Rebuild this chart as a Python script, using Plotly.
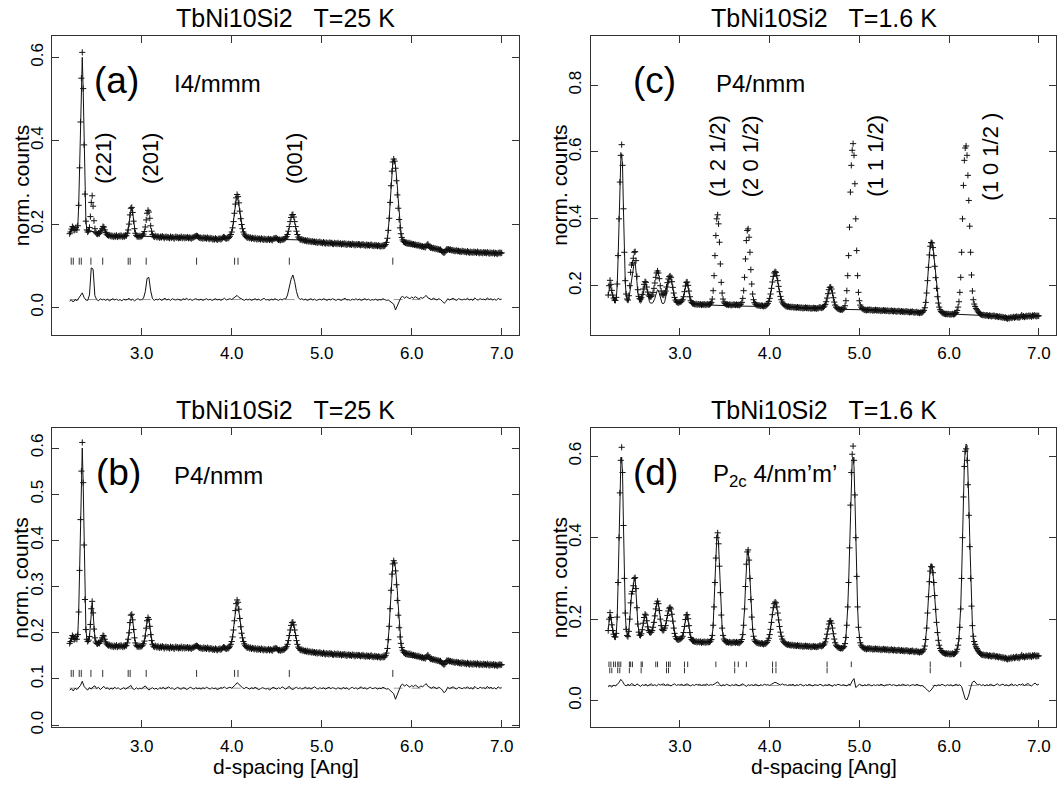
import plotly.graph_objects as go

W, H = 1057, 785
FONT = "Liberation Sans, Arial, Helvetica, sans-serif"

# ---------------- data (intensities in units of 0.001 norm. counts) ----------------
# observed points sampled every 0.01 Ang from 2.20 to 7.00 Ang
d_obs = [round(2.20 + 0.01 * i, 2) for i in range(481)]
# difference curves sampled every 0.02 Ang from 2.20 to 7.00 Ang
d_diff = [round(2.20 + 0.02 * i, 2) for i in range(241)]

obs_25K = [
    177, 181, 188, 194, 191, 185, 187, 192, 186, 196,
    245, 335, 445, 550, 612, 525, 390, 272, 207, 186,
    181, 184, 192, 218, 252, 268, 243, 208, 189, 180,
    177, 176, 178, 177, 181, 184, 189, 194, 193, 186,
    180, 176, 174, 172, 174, 171, 173, 170, 172, 169,
    172, 170, 173, 169, 171, 172, 170, 173, 171, 169,
    172, 170, 173, 172, 178, 186, 200, 222, 238, 240,
    228, 207, 189, 178, 173, 170, 171, 169, 172, 170,
    171, 173, 176, 182, 193, 210, 226, 233, 229, 214,
    196, 183, 175, 171, 169, 172, 170, 168, 171, 169,
    167, 170, 168, 171, 169, 166, 169, 170, 167, 169,
    168, 166, 170, 167, 169, 168, 165, 168, 170, 167,
    169, 166, 168, 167, 170, 166, 168, 169, 166, 168,
    167, 169, 166, 168, 167, 165, 168, 167, 169, 170,
    171, 172, 171, 169, 167, 168, 166, 167, 165, 168,
    166, 167, 165, 168, 166, 164, 167, 165, 166, 163,
    165, 163, 166, 164, 162, 165, 164, 166, 163, 165,
    167, 169, 168, 166, 165, 167, 166, 168, 171, 175,
    181, 191, 206, 226, 248, 263, 271, 266, 251, 231,
    213, 199, 189, 181, 176, 172, 170, 168, 167, 169,
    166, 168, 165, 167, 166, 164, 167, 165, 163, 166,
    164, 165, 163, 166, 164, 162, 165, 163, 164, 162,
    163, 165, 162, 164, 163, 161, 164, 166, 165, 167,
    166, 164, 162, 163, 161, 163, 162, 164, 163, 165,
    167, 170, 175, 183, 194, 206, 216, 222, 223, 217,
    206, 194, 183, 175, 169, 166, 163, 162, 164, 161,
    162, 160, 161, 159, 161, 158, 160, 158, 159, 157,
    159, 157, 158, 156, 158, 155, 157, 156, 158, 155,
    156, 154, 157, 155, 153, 156, 154, 155, 153, 156,
    154, 155, 153, 152, 155, 153, 154, 152, 155, 153,
    152, 154, 151, 153, 152, 154, 151, 153, 150, 152,
    153, 151, 152, 150, 153, 151, 152, 149, 151, 152,
    150, 152, 151, 149, 151, 150, 152, 149, 150, 148,
    151, 149, 150, 148, 150, 151, 148, 149, 147, 150,
    148, 149, 147, 149, 148, 146, 148, 147, 149, 147,
    148, 151, 156, 166, 185, 214, 252, 292, 327, 349,
    356, 351, 334, 304, 270, 238, 211, 191, 177, 168,
    162, 158, 157, 155, 156, 154, 155, 153, 155, 152,
    153, 151, 152, 150, 151, 149, 150, 148, 150, 147,
    148, 146, 147, 145, 146, 144, 147, 150, 152, 148,
    145, 143, 144, 142, 143, 141, 142, 140, 141, 139,
    140, 138, 139, 136, 134, 132, 131, 133, 137, 140,
    139, 140, 138, 139, 137, 138, 136, 137, 135, 136,
    137, 135, 136, 134, 135, 133, 136, 134, 135, 133,
    134, 132, 135, 133, 131, 134, 132, 133, 131, 134,
    132, 133, 131, 134, 132, 130, 133, 131, 132, 130,
    133, 131, 132, 130, 133, 131, 129, 132, 130, 131,
    130, 132, 129, 131, 130, 128, 131, 130, 132, 130,
    131,
]

obs_1p6K = [
    172, 200, 216, 204, 186, 172, 163, 157, 156, 165,
    205, 290, 400, 510, 590, 622, 560, 430, 300, 215,
    175, 160, 157, 170, 200, 240, 262, 268, 282, 300,
    302, 275, 228, 188, 168, 161, 160, 164, 174, 190,
    204, 212, 210, 196, 181, 172, 168, 167, 168, 172,
    180, 192, 208, 225, 238, 244, 238, 221, 200, 184,
    175, 172, 173, 178, 184, 196, 209, 220, 227, 229,
    225, 212, 195, 178, 165, 157, 152, 150, 149, 150,
    151, 152, 154, 158, 167, 182, 199, 210, 211, 201,
    184, 167, 155, 150, 147, 146, 145, 144, 146, 143,
    144, 145, 143, 145, 142, 144, 143, 145, 142, 144,
    143, 145, 143, 144, 146, 150, 160, 185, 230, 290,
    350, 400, 412, 385, 330, 265, 210, 178, 160, 151,
    147, 145, 143, 144, 142, 144, 143, 141, 143, 142,
    144, 143, 142, 144, 142, 143, 141, 143, 145, 150,
    162, 185, 225, 280, 335, 365, 370, 345, 300, 248,
    205, 175, 158, 149, 145, 143, 141, 142, 140, 141,
    139, 141, 140, 138, 140, 139, 141, 143, 147, 153,
    162, 175, 192, 211, 228, 238, 242, 240, 230, 215,
    198, 182, 168, 158, 151, 146, 143, 141, 139, 138,
    137, 138, 136, 137, 135, 137, 136, 134, 136, 135,
    134, 136, 134, 135, 133, 135, 134, 132, 134, 133,
    135, 133, 134, 132, 134, 133, 131, 133, 132, 134,
    132, 133, 131, 133, 132, 134, 136, 134, 133, 135,
    136, 139, 144, 152, 163, 176, 188, 195, 196, 190,
    178, 164, 151, 142, 136, 133, 131, 130, 129, 128,
    129, 128, 130, 133, 140, 155, 185, 230, 290, 375,
    480, 560, 605, 625, 590, 505, 400, 305, 230, 180,
    155, 142, 136, 132, 130, 129, 127, 128, 126, 128,
    127, 129, 126, 128, 127, 125, 127, 126, 128, 126,
    127, 125, 127, 126, 124, 126, 125, 127, 125, 126,
    124, 126, 125, 123, 125, 124, 126, 124, 123, 125,
    124, 122, 124, 123, 125, 123, 122, 124, 122, 123,
    121, 123, 122, 124, 121, 122, 120, 122, 121, 123,
    121, 119, 121, 120, 122, 119, 120, 118, 120, 119,
    120, 122, 126, 134, 150, 178, 215, 255, 292, 318,
    329, 328, 314, 290, 258, 224, 192, 167, 148, 136,
    128, 123, 120, 118, 117, 116, 115, 116, 114, 116,
    115, 113, 115, 114, 116, 114, 115, 117, 120, 126,
    136, 152, 180, 225, 300, 400, 500, 575, 612, 618,
    590, 530, 455, 378, 300, 232, 184, 158, 145, 138,
    132, 128, 124, 120, 117, 115, 113, 112, 113, 111,
    112, 110, 112, 111, 109, 111, 110, 108, 110, 109,
    111, 109, 107, 109, 108, 106, 108, 107, 105, 107,
    104, 106, 103, 105, 103, 101, 104, 102, 104, 106,
    103, 105, 107, 104, 106, 108, 105, 107, 104, 106,
    108, 112, 107, 109, 106, 108, 110, 107, 109, 111,
    108, 110, 107, 111, 109, 112, 110, 108, 111, 109,
    110,
]

# calculated profiles, T = 25 K
calc25_d = [
    2.20, 2.22, 2.23, 2.24, 2.25, 2.26, 2.27, 2.28, 2.29, 2.30, 2.31, 2.32, 2.33, 2.34, 2.35, 2.36, 2.37, 2.38, 2.39, 2.40, 2.41,
    2.42, 2.43, 2.44, 2.45, 2.46, 2.47, 2.48, 2.49,
    2.50, 2.52, 2.54, 2.55, 2.56, 2.57, 2.58, 2.59, 2.60, 2.61, 2.63, 2.66,
    2.75, 2.82, 2.83, 2.84, 2.85, 2.86, 2.87, 2.88, 2.89, 2.90, 2.91, 2.92, 2.93, 2.94, 2.96,
    3.00, 3.02, 3.03, 3.04, 3.05, 3.06, 3.07, 3.08, 3.09, 3.10, 3.11, 3.12, 3.14,
    3.30, 3.50, 3.60, 3.62, 3.65, 3.80, 3.92, 3.97, 3.98, 3.99, 4.00, 4.01, 4.02, 4.03, 4.04, 4.05, 4.06, 4.07,
    4.08, 4.09, 4.10, 4.11, 4.12, 4.13, 4.14, 4.15, 4.17, 4.20,
    4.40, 4.55, 4.60, 4.61, 4.62, 4.63, 4.64, 4.65, 4.66, 4.67, 4.68, 4.69, 4.70, 4.71, 4.72, 4.73, 4.74, 4.76, 4.78,
    4.90, 5.10, 5.30, 5.50, 5.65, 5.70, 5.71, 5.72, 5.73, 5.74, 5.75, 5.76, 5.77, 5.78, 5.79, 5.80,
    5.81, 5.82, 5.83, 5.84, 5.85, 5.86, 5.87, 5.88, 5.89, 5.90, 5.92, 5.94,
    6.00, 6.15, 6.30, 6.45, 6.60, 6.80, 7.00,
]
calc_I4mmm = [
    179, 187, 192, 191, 186, 186, 189, 187, 195, 243, 332, 443, 550, 600, 522, 390, 273, 208, 188, 182, 183,
    183, 183, 183, 183, 183, 182, 181, 180,
    178, 177, 180, 184, 189, 193, 193, 187, 180, 176, 173, 172,
    171, 172, 173, 178, 186, 200, 221, 236, 239, 227, 207, 189, 178, 173, 170,
    171, 171, 171, 171, 171, 171, 171, 170, 170, 170, 170, 170, 170,
    168, 167, 169, 170, 167, 164, 166, 168, 171, 175, 181, 191, 206, 225, 246, 259, 262, 258,
    246, 230, 213, 199, 189, 181, 176, 172, 168, 166,
    164, 163, 163, 163, 163, 163, 163, 163, 163, 163, 163, 163, 163, 163, 163, 163, 163, 162, 162,
    158, 154, 152, 150, 148, 147, 149, 154, 164, 183, 212, 250, 290, 326, 348, 355,
    352, 340, 320, 292, 260, 228, 200, 180, 166, 156, 150, 148,
    147, 144, 139, 136, 134, 132, 130,
]
calc_P4nmm_25K = [
    179, 187, 192, 191, 186, 186, 189, 187, 195, 243, 332, 443, 550, 600, 522, 390, 273, 208, 188, 182, 183,
    191, 216, 250, 265, 243, 209, 190, 181,
    178, 177, 180, 184, 189, 193, 193, 187, 180, 176, 173, 172,
    171, 172, 173, 178, 186, 200, 221, 236, 239, 227, 207, 189, 178, 173, 170,
    171, 175, 181, 192, 209, 225, 231, 228, 213, 196, 183, 175, 170,
    168, 167, 169, 170, 167, 164, 166, 168, 171, 175, 181, 191, 206, 225, 246, 259, 262, 258,
    246, 230, 213, 199, 189, 181, 176, 172, 168, 166,
    164, 163, 165, 168, 174, 182, 193, 205, 215, 220, 221, 216, 206, 194, 183, 175, 169, 164, 162,
    158, 154, 152, 150, 148, 147, 149, 154, 164, 183, 212, 250, 290, 326, 348, 355,
    352, 340, 320, 292, 260, 228, 200, 180, 166, 156, 150, 148,
    147, 144, 139, 136, 134, 132, 130,
]

# calculated profiles, T = 1.6 K
calc16_d = [
    2.20, 2.21, 2.22, 2.23, 2.24, 2.25, 2.26, 2.27, 2.28, 2.29, 2.30, 2.31, 2.32, 2.33, 2.34, 2.35, 2.36, 2.37, 2.38, 2.39, 2.40, 2.41, 2.42,
    2.43, 2.44, 2.45, 2.46, 2.47, 2.48, 2.49, 2.50, 2.51, 2.52, 2.53, 2.54, 2.55, 2.56,
    2.57, 2.58, 2.59, 2.60, 2.61, 2.62, 2.63, 2.64, 2.65, 2.66, 2.67, 2.68,
    2.69, 2.70, 2.71, 2.72, 2.73, 2.74, 2.75, 2.76, 2.77, 2.78, 2.79, 2.80, 2.81,
    2.82, 2.83, 2.84, 2.85, 2.86, 2.87, 2.88, 2.89, 2.90, 2.91, 2.92, 2.93, 2.94, 2.95, 2.97,
    2.99, 3.01, 3.02, 3.03, 3.04, 3.05, 3.06, 3.07, 3.08, 3.09, 3.10, 3.11, 3.12, 3.14,
    3.16, 3.25, 3.34, 3.35, 3.36, 3.37, 3.38, 3.39, 3.40, 3.41, 3.42, 3.43, 3.44, 3.45, 3.46, 3.47, 3.48, 3.50,
    3.55, 3.65, 3.68, 3.69, 3.70, 3.71, 3.72, 3.73, 3.74, 3.75, 3.76, 3.77, 3.78, 3.79, 3.80, 3.81, 3.82, 3.84, 3.86,
    3.92, 3.97, 3.98, 3.99, 4.00, 4.01, 4.02, 4.03, 4.04, 4.05, 4.06, 4.07, 4.08, 4.09, 4.10, 4.11, 4.12, 4.13, 4.14, 4.16, 4.20,
    4.35, 4.50, 4.59, 4.61, 4.62, 4.63, 4.64, 4.65, 4.66, 4.67, 4.68, 4.69, 4.70, 4.71, 4.72, 4.73, 4.74, 4.76,
    4.80, 4.82, 4.83, 4.84, 4.85, 4.86, 4.87, 4.88, 4.89, 4.90, 4.91, 4.92, 4.93, 4.94, 4.95, 4.96, 4.97, 4.98, 4.99, 5.00, 5.01, 5.02, 5.04,
    5.20, 5.40, 5.60, 5.69, 5.71, 5.72, 5.73, 5.74, 5.75, 5.76, 5.77, 5.78, 5.79, 5.80, 5.81, 5.82, 5.83, 5.84, 5.85, 5.86, 5.87, 5.88, 5.89, 5.90, 5.92,
    5.96, 6.04, 6.08, 6.09, 6.10, 6.11, 6.12, 6.13, 6.14, 6.15, 6.16, 6.17, 6.18, 6.19, 6.20, 6.21, 6.22, 6.23, 6.24, 6.25, 6.26, 6.27, 6.28, 6.30, 6.33,
    6.40, 6.55, 6.70, 6.85, 7.00,
]
calc_P4nmm_1p6K = [
    172, 190, 200, 192, 178, 166, 158, 154, 153, 162, 200, 282, 392, 500, 575, 595, 552, 425, 295, 210, 170, 155, 150,
    160, 180, 205, 225, 240, 258, 270, 272, 250, 212, 178, 158, 150, 148,
    150, 160, 177, 195, 205, 204, 190, 172, 160, 152, 148, 147,
    148, 150, 155, 162, 172, 182, 188, 186, 176, 163, 153, 148, 146,
    147, 152, 162, 178, 195, 210, 219, 222, 219, 207, 190, 174, 160, 152, 147,
    147, 147, 150, 155, 165, 180, 197, 208, 209, 199, 183, 165, 153, 145,
    145, 143, 142, 142, 142, 142, 142, 142, 142, 141, 141, 141, 141, 141, 141, 141, 141, 140,
    140, 139, 139, 139, 139, 139, 139, 139, 139, 139, 139, 139, 139, 139, 139, 138, 138, 138, 138,
    138, 141, 145, 151, 160, 173, 190, 208, 225, 235, 239, 237, 227, 212, 195, 179, 165, 155, 148, 141, 136,
    134, 133, 133, 137, 143, 151, 162, 174, 186, 193, 194, 188, 176, 162, 149, 140, 134, 130,
    129, 129, 129, 129, 129, 129, 129, 129, 129, 129, 129, 129, 129, 129, 129, 129, 128, 128, 128, 128, 128, 128, 128,
    126, 124, 121, 120, 122, 126, 134, 150, 177, 214, 255, 293, 320, 333, 332, 317, 291, 258, 224, 192, 166, 147, 135, 126, 119,
    116, 115, 115, 115, 115, 115, 115, 114, 114, 114, 114, 114, 114, 114, 114, 114, 113, 113, 113, 113, 113, 113, 113, 112, 112,
    111, 108, 107, 108, 110,
]
calc_P2c = [
    175, 198, 212, 203, 186, 173, 164, 158, 157, 166, 205, 288, 398, 505, 578, 598, 555, 430, 300, 215, 176, 161, 158,
    170, 200, 238, 260, 268, 282, 298, 300, 274, 228, 188, 168, 161, 160,
    164, 174, 189, 203, 211, 209, 196, 181, 172, 168, 167, 168,
    172, 180, 192, 207, 224, 237, 243, 238, 221, 200, 184, 175, 172,
    173, 177, 184, 196, 209, 220, 227, 228, 224, 211, 194, 178, 165, 157, 150,
    150, 152, 154, 158, 167, 181, 198, 209, 210, 200, 184, 167, 155, 147,
    145, 144, 146, 150, 160, 184, 228, 288, 348, 398, 410, 384, 330, 265, 210, 178, 160, 147,
    143, 143, 145, 150, 162, 185, 224, 278, 333, 363, 368, 345, 300, 248, 205, 175, 158, 146, 142,
    140, 143, 147, 153, 162, 175, 192, 210, 227, 237, 241, 239, 229, 214, 197, 181, 167, 157, 150, 143, 137,
    134, 133, 134, 138, 144, 152, 163, 175, 187, 194, 195, 189, 177, 163, 150, 141, 135, 131,
    129, 130, 133, 140, 155, 184, 228, 288, 372, 470, 550, 592, 598, 575, 500, 398, 305, 230, 180, 155, 142, 136, 130,
    126, 124, 121, 120, 122, 126, 134, 150, 177, 214, 258, 300, 328, 336, 332, 316, 291, 258, 224, 192, 166, 147, 135, 126, 120,
    116, 115, 119, 125, 135, 152, 182, 230, 305, 405, 505, 580, 615, 630, 628, 575, 490, 400, 315, 240, 185, 150, 133, 122, 116,
    111, 107, 105, 108, 110,
]

# difference curves (obs - calc, shifted)
diff_I4mmm = [
    15, 18, 13, 19, 16, 22, 28, 35, 24, 18,
    17, 30, 95, 92, 28, 19, 16, 21, 18, 20,
    17, 20, 16, 19, 21, 18, 20, 17, 19, 16,
    20, 18, 19, 22, 17, 20, 16, 19, 21, 18,
    19, 22, 38, 70, 72, 40, 21, 17, 20, 18,
    21, 17, 19, 22, 18, 20, 17, 21, 19, 18,
    20, 18, 17, 21, 19, 22, 18, 20, 17, 19,
    21, 19, 18, 20, 17, 19, 21, 18, 20, 17,
    19, 21, 18, 20, 17, 20, 22, 18, 19, 21,
    19, 22, 25, 29, 24, 21, 19, 17, 20, 18,
    20, 17, 19, 21, 18, 20, 17, 19, 22, 18,
    19, 17, 20, 18, 21, 19, 17, 20, 18, 21,
    20, 30, 48, 68, 78, 62, 38, 24, 19, 21,
    18, 20, 17, 19, 21, 18, 20, 17, 19, 20,
    18, 21, 19, 17, 20, 18, 21, 19, 17, 20,
    19, 17, 20, 22, 18, 19, 17, 20, 18, 21,
    18, 20, 17, 19, 21, 18, 20, 17, 19, 18,
    20, 17, 19, 18, 21, 19, 17, 18, 15, 12,
    8, -6, 5, 16, 24, 27, 22, 26, 23, 21,
    25, 22, 26, 23, 20, 24, 22, 25, 29, 23,
    21, 19, 22, 20, 18, 21, 19, 15, 10, 14,
    21, 18, 20, 22, 19, 17, 21, 19, 18, 20,
    19, 22, 18, 20, 17, 23, 19, 18, 21, 19,
    20, 18, 23, 19, 21, 18, 20, 17, 22, 19,
    20,
]
diff_P4nmm_25K = [
    76, 79, 74, 80, 77, 82, 86, 95, 84, 79,
    76, 81, 78, 83, 85, 79, 82, 77, 80, 84,
    79, 81, 77, 80, 78, 82, 79, 81, 77, 80,
    81, 78, 80, 83, 86, 79, 77, 81, 78, 80,
    79, 82, 85, 80, 76, 79, 81, 78, 80, 77,
    81, 79, 82, 78, 80, 83, 79, 81, 77, 80,
    82, 79, 78, 81, 80, 77, 79, 82, 80, 78,
    81, 79, 80, 78, 81, 79, 82, 80, 78, 81,
    79, 80, 77, 79, 81, 80, 83, 79, 80, 82,
    80, 83, 87, 92, 88, 84, 81, 79, 82, 80,
    78, 81, 79, 82, 80, 77, 79, 81, 80, 78,
    80, 76, 79, 82, 80, 78, 81, 79, 83, 80,
    78, 81, 84, 79, 77, 80, 82, 79, 81, 78,
    80, 82, 79, 81, 78, 80, 83, 80, 78, 81,
    79, 81, 78, 80, 82, 79, 81, 80, 78, 81,
    80, 78, 82, 79, 81, 77, 80, 82, 79, 81,
    78, 80, 83, 79, 81, 78, 80, 82, 79, 80,
    81, 78, 80, 79, 82, 80, 78, 79, 76, 72,
    68, 56, 66, 78, 86, 89, 84, 88, 85, 82,
    86, 83, 87, 84, 81, 85, 83, 86, 90, 84,
    82, 80, 83, 81, 79, 82, 80, 76, 70, 74,
    82, 79, 81, 83, 80, 78, 82, 80, 79, 81,
    80, 83, 79, 81, 78, 84, 80, 79, 82, 80,
    81, 79, 84, 80, 82, 79, 81, 78, 83, 80,
    81,
]
diff_P2c = [
    34, 37, 33, 38, 36, 41, 44, 52, 47, 39,
    36, 40, 37, 42, 39, 36, 41, 38, 35, 39,
    37, 40, 36, 39, 41, 37, 39, 36, 40, 38,
    39, 41, 37, 40, 38, 36, 39, 41, 37, 39,
    38, 40, 37, 39, 41, 38, 36, 39, 37, 40,
    38, 40, 37, 39, 38, 41, 37, 39, 38, 40,
    43, 46, 40, 36, 39, 37, 40, 38, 36, 39,
    37, 40, 38, 36, 39, 41, 38, 35, 39, 37,
    39, 37, 40, 38, 36, 39, 37, 40, 38, 39,
    37, 40, 42, 45, 43, 40, 38, 41, 38, 39,
    37, 39, 38, 40, 36, 39, 37, 40, 38, 36,
    39, 37, 40, 38, 36, 39, 38, 37, 40, 38,
    36, 39, 37, 40, 38, 35, 39, 37, 40, 38,
    37, 39, 38, 36, 40, 39, 48, 54, 32, 37,
    40, 38, 36, 39, 37, 40, 38, 36, 39, 37,
    39, 37, 40, 38, 36, 39, 38, 40, 37, 39,
    38, 36, 39, 37, 40, 38, 37, 39, 36, 38,
    39, 37, 40, 38, 36, 37, 34, 30, 25, 22,
    26, 33, 38, 36, 39, 37, 40, 38, 36, 39,
    37, 39, 36, 38, 40, 37, 39, 34, 18, 4,
    2, 14, 32, 45, 48, 42, 38, 40, 37, 39,
    36, 39, 37, 40, 38, 36, 39, 41, 37, 38,
    40, 37, 39, 36, 38, 41, 37, 39, 36, 40,
    38, 41, 37, 39, 42, 38, 36, 40, 43, 38,
    40,
]
diff_zero = {"a": 19, "b": 80, "d": 37}

# reflection positions (d-spacing, Ang)
refl_nuclear = [2.217, 2.240, 2.306, 2.329, 2.436, 2.567, 2.850, 2.872, 3.050, 3.610,
                4.032, 4.070, 4.640, 5.790]
refl_magnetic = [2.208, 2.230, 2.260, 2.280, 2.306, 2.320, 2.340, 2.436, 2.450, 2.470,
                 2.567, 2.580, 2.730, 2.750, 2.850, 2.872, 2.890, 3.050, 3.086, 3.400,
                 3.610, 3.650, 3.740, 4.032, 4.070, 4.640, 4.910, 5.790, 6.130]
refl_row = {"a": 111, "b": 112, "d_top": 89, "d_bot": 74}

x_ticks = [3.0, 4.0, 5.0, 6.0, 7.0]
x_ticktext = ["3.0", "4.0", "5.0", "6.0", "7.0"]
y_ticks = {
    "a": ([0.0, 0.2, 0.4, 0.6], ["0.0", "0.2", "0.4", "0.6"]),
    "b": ([0.0, 0.1, 0.2, 0.3, 0.4, 0.5, 0.6], ["0.0", "0.1", "0.2", "0.3", "0.4", "0.5", "0.6"]),
    "c": ([0.2, 0.4, 0.6, 0.8], ["0.2", "0.4", "0.6", "0.8"]),
    "d": ([0.0, 0.2, 0.4, 0.6], ["0.0", "0.2", "0.4", "0.6"]),
}
titles = {"a": "TbNi10Si2\u00a0\u00a0\u00a0T=25 K", "b": "TbNi10Si2\u00a0\u00a0\u00a0T=25 K",
          "c": "TbNi10Si2\u00a0\u00a0\u00a0T=1.6 K", "d": "TbNi10Si2\u00a0\u00a0\u00a0T=1.6 K"}
groups = {"a": "I4/mmm", "b": "P4/nmm", "c": "P4/nmm", "d": "P<sub>2c</sub> 4/nm\u2019m\u2019"}


def k(v):
    return [x / 1000.0 for x in v]


# ---------------- figure ----------------
fig = go.Figure()
axmap = {"a": ("x", "y"), "c": ("x2", "y2"), "b": ("x3", "y3"), "d": ("x4", "y4")}
INK = "#111111"


def add_line(panel, x, y, width=1.0, color=INK, dash=None):
    xa, ya = axmap[panel]
    fig.add_trace(go.Scatter(x=x, y=y, mode="lines", xaxis=xa, yaxis=ya,
                             line=dict(color=color, width=width, dash=dash),
                             hoverinfo="skip", showlegend=False))


def add_obs(panel, x, y):
    xa, ya = axmap[panel]
    fig.add_trace(go.Scatter(x=x, y=y, mode="markers", xaxis=xa, yaxis=ya,
                             marker=dict(symbol="cross-thin", size=4.4, color=INK,
                                         line=dict(color=INK, width=1)),
                             hoverinfo="skip", showlegend=False))


def add_refl(panel, pos, level, size=5):
    xa, ya = axmap[panel]
    fig.add_trace(go.Scatter(x=pos, y=[level / 1000.0] * len(pos), mode="markers",
                             xaxis=xa, yaxis=ya,
                             marker=dict(symbol="line-ns", size=size, color="#333",
                                         line=dict(color="#333", width=1)),
                             hoverinfo="skip", showlegend=False))


d_ends = [d_obs[0], d_obs[-1]]
# (a)
add_line("a", d_ends, [diff_zero["a"] / 1000.0] * 2, width=1, color="#999", dash="dash")
add_line("a", d_diff, k(diff_I4mmm))
add_refl("a", refl_nuclear, refl_row["a"])
add_line("a", calc25_d, k(calc_I4mmm))
add_obs("a", d_obs, k(obs_25K))
# (b)
add_line("b", d_ends, [diff_zero["b"] / 1000.0] * 2, width=1, color="#999", dash="dash")
add_line("b", d_diff, k(diff_P4nmm_25K))
add_refl("b", refl_nuclear, refl_row["b"])
add_line("b", calc25_d, k(calc_P4nmm_25K))
add_obs("b", d_obs, k(obs_25K))
# (c)
add_line("c", calc16_d, k(calc_P4nmm_1p6K))
add_obs("c", d_obs, k(obs_1p6K))
# (d)
add_line("d", d_ends, [diff_zero["d"] / 1000.0] * 2, width=1, color="#999", dash="dash")
add_line("d", d_diff, k(diff_P2c))
add_refl("d", refl_magnetic, refl_row["d_top"], size=4)
add_refl("d", refl_nuclear, refl_row["d_bot"], size=4)
add_line("d", calc16_d, k(calc_P2c))
add_obs("d", d_obs, k(obs_1p6K))


def px(x):
    return x / W


def py(y):
    return 1 - y / H


# panel geometry (pixels)
box = {
    "a": (52.4, 519, 36, 338), "c": (591, 1056, 36, 338),
    "b": (52.4, 519, 432, 734), "d": (591, 1056, 432, 734),
}
yranges = {"a": [-0.066, 0.652], "c": [0.0525, 0.948], "b": [-0.005, 0.643], "d": [-0.066, 0.669]}
XR = [2.008, 7.192]

axis_common = dict(showline=True, linecolor="#333", linewidth=1, mirror="allticks",
                   ticks="inside", ticklen=7, tickwidth=1, tickcolor="#333",
                   showgrid=False, zeroline=False,
                   tickfont=dict(family=FONT, size=17, color="#000"))
layout_axes = {}
for p, (xa, ya) in axmap.items():
    x0, x1, y0, y1 = box[p]
    xk = "xaxis" + xa[1:]
    yk = "yaxis" + ya[1:]
    layout_axes[xk] = dict(axis_common, domain=[px(x0), px(x1)], range=XR, anchor=ya,
                           tickvals=x_ticks, ticktext=x_ticktext, ticklabelstandoff=3)
    tv, tt = y_ticks[p]
    layout_axes[yk] = dict(axis_common, domain=[py(y1), py(y0)], range=yranges[p], anchor=xa,
                           tickvals=tv, ticktext=tt, tickangle=-90, ticklabelstandoff=2)

ann = []
label_pos = {"a": (116.6, 81), "c": (654, 81), "b": (118, 477), "d": (655, 477)}
group_pos = {"a": (172, 84), "c": (714, 84), "b": (172, 480), "d": (711, 480)}
for p in "abcd":
    x0, x1, y0, y1 = box[p]
    cx = (x0 + x1) / 2
    ann.append(dict(text=titles[p], x=px(cx), y=py(y0 - 18), xref="paper", yref="paper",
                    showarrow=False, font=dict(family=FONT, size=25, color="#000"),
                    xanchor="center", yanchor="middle"))
    ann.append(dict(text="(" + p + ")", x=px(label_pos[p][0]), y=py(label_pos[p][1]),
                    xref="paper", yref="paper", showarrow=False,
                    font=dict(family=FONT, size=37, color="#000"), xanchor="center", yanchor="middle"))
    ann.append(dict(text=groups[p], x=px(group_pos[p][0]), y=py(group_pos[p][1]),
                    xref="paper", yref="paper", showarrow=False,
                    font=dict(family=FONT, size=24, color="#000"), xanchor="left", yanchor="middle"))
    ann.append(dict(text="norm. counts", x=px(x0 - 31.5), y=py((y0 + y1) / 2), xref="paper",
                    yref="paper", showarrow=False, textangle=-90,
                    font=dict(family=FONT, size=21, color="#000"), xanchor="center", yanchor="middle"))
for p in "bd":
    x0, x1, y0, y1 = box[p]
    ann.append(dict(text="d-spacing [Ang]", x=px((x0 + x1) / 2), y=py(773), xref="paper",
                    yref="paper", showarrow=False,
                    font=dict(family=FONT, size=21, color="#000"), xanchor="center", yanchor="middle"))

refl_labels_a = [("(221)", 2.576), ("(201)", 3.10), ("(001)", 4.69)]
refl_labels_c = [("(1 2 1/2)", 3.42), ("(2 0 1/2)", 3.78), ("(1 1 1/2)", 5.18), ("(1 0 1/2 )", 6.46)]
for t, xv in refl_labels_a:
    ann.append(dict(text=t, x=xv, y=0.358, xref="x", yref="y", showarrow=False, textangle=-90,
                    font=dict(family=FONT, size=22, color="#000"), xanchor="center", yanchor="middle"))
for t, xv in refl_labels_c:
    ann.append(dict(text=t, x=xv, y=0.587, xref="x2", yref="y2", showarrow=False, textangle=-90,
                    font=dict(family=FONT, size=22, color="#000"), xanchor="center", yanchor="middle"))

fig.update_layout(width=W, height=H, margin=dict(l=0, r=0, t=0, b=0),
                  paper_bgcolor="white", plot_bgcolor="white",
                  font=dict(family=FONT, color="#000"), annotations=ann, **layout_axes)

fig.write_html("out.html", config={"displayModeBar": False},
               post_script="document.body.style.margin='0px';document.body.style.overflow='hidden';")
